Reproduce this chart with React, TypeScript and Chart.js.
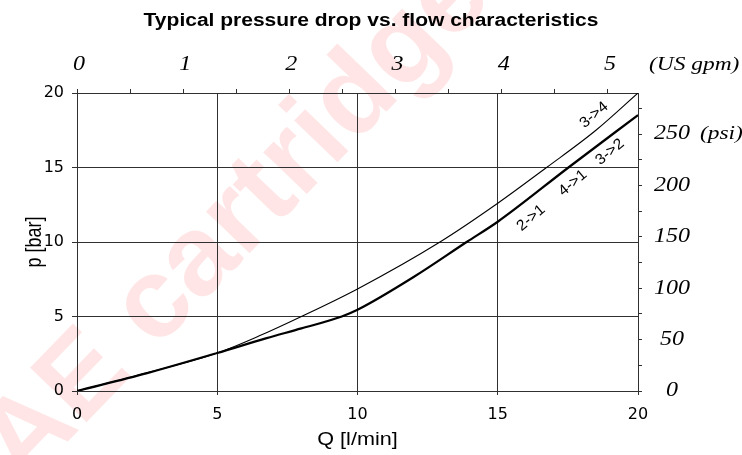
import React, { useEffect, useRef } from 'react';
import { Chart, registerables } from 'chart.js';

Chart.register(...registerables);

// ---- text ----
const TITLE = 'Typical pressure drop vs. flow characteristics';
const X_TITLE = 'Q [l/min]';
const Y_TITLE = 'p [bar]';
const GPM_UNIT = '(US gpm)';
const PSI_UNIT = '(psi)';
const WATERMARK = 'AE cartridges';

// ---- data (Q in l/min, p in bar) ----
const flowThin = [0, 2.5, 5, 6.5, 8, 10, 12.94, 15, 16.74, 18.5, 20];
const pressureThin = [0, 1.22, 2.55, 3.7, 5.0, 6.85, 10, 12.6, 15, 17.5, 20];
const flowThick = [0, 2.5, 5, 6.76, 8, 9.44, 10, 12, 13.89, 15, 17.52, 20];
const pressureThick = [0, 1.2, 2.55, 3.55, 4.2, 5, 5.45, 7.65, 10, 11.36, 15, 18.52];

// curve annotations (data units)
const curveLabels = ['3->4', '3->2', '4->1', '2->1'];
const curveLabelQ = [18.43, 19.0, 17.68, 16.19];
const curveLabelP = [18.52, 16.04, 13.96, 11.61];

// ---- ticks ----
const flowTicks = [0, 5, 10, 15, 20];
const barTicks = [0, 5, 10, 15, 20];
const gpmTicks = [0, 0.5, 1, 1.5, 2, 2.5, 3, 3.5, 4, 4.5, 5];
const gpmLabels = [0, 1, 2, 3, 4, 5];
const psiTicks = [0, 25, 50, 75, 100, 125, 150, 175, 200, 225, 250, 275];
const psiLabels = [0, 50, 100, 150, 200, 250];

const LPM_PER_GPM = 3.78541;
const PSI_PER_BAR = 14.5038;
const Q_MAX = 20;
const P_MAX = 20;

const GRID = '#303030';
const SERIF = '"Liberation Serif", "Times New Roman", serif';
const SANS = '"Liberation Sans", Arial, sans-serif';

function drawText(
  ctx: CanvasRenderingContext2D,
  text: string,
  x: number,
  y: number,
  font: string,
  align: CanvasTextAlign,
  baseline: CanvasTextBaseline,
  rot = 0,
  sx = 1.2,
  sy = 1,
  color = '#000'
) {
  ctx.save();
  ctx.translate(x, y);
  ctx.rotate(rot);
  ctx.scale(sx, sy);
  ctx.font = font;
  ctx.textAlign = align;
  ctx.textBaseline = baseline;
  ctx.fillStyle = color;
  ctx.fillText(text, 0, 0);
  ctx.restore();
}

const textPlugin = {
  id: 'extraTexts',
  beforeDraw(chart: any) {
    const ctx: CanvasRenderingContext2D = chart.ctx;
    ctx.save();
    ctx.translate(24, 487);
    ctx.rotate((-46 * Math.PI) / 180);
    ctx.font = 'bold 114px ' + SANS;
    ctx.textAlign = 'left';
    ctx.textBaseline = 'alphabetic';
    ctx.fillStyle = 'rgba(255, 0, 0, 0.1)';
    ctx.fillText(WATERMARK, 0, 0);
    ctx.restore();
  },
  afterDraw(chart: any) {
    const ctx: CanvasRenderingContext2D = chart.ctx;
    const area = chart.chartArea;
    const xs = chart.scales.x;
    const ys = chart.scales.y;
    const y2 = chart.scales.y2;
    const x2 = chart.scales.x2;

    drawText(ctx, TITLE, chart.width / 2, 21, 'bold 17.5px ' + SANS, 'center', 'middle');
    drawText(ctx, X_TITLE, (area.left + area.right) / 2, 440, '18px ' + SANS, 'center', 'middle');
    drawText(ctx, Y_TITLE, 35, (area.top + area.bottom) / 2, '18px ' + SANS, 'center', 'middle', -Math.PI / 2, 1, 1.2);

    // secondary-axis tick labels (positions from the library's scales)
    gpmLabels.forEach((v) => {
      drawText(ctx, String(v), x2.getPixelForValue(v) + 2, area.top - 28, 'italic 20px ' + SERIF, 'center', 'middle');
    });
    psiLabels.forEach((v) => {
      drawText(ctx, String(v), area.right + 34, y2.getPixelForValue(v), 'italic 20px ' + SERIF, 'center', 'middle');
    });
    drawText(ctx, GPM_UNIT, area.right + 11, area.top - 28, 'italic 19.5px ' + SERIF, 'left', 'middle');
    drawText(ctx, PSI_UNIT, area.right + 62, y2.getPixelForValue(250), 'italic 19.5px ' + SERIF, 'left', 'middle');

    curveLabels.forEach((lab, i) => {
      drawText(
        ctx,
        lab,
        xs.getPixelForValue(curveLabelQ[i]),
        ys.getPixelForValue(curveLabelP[i]),
        '15px ' + SANS,
        'center',
        'middle',
        (-40 * Math.PI) / 180,
        1.05,
        1
      );
    });
  },
};

export default function App() {
  const ref = useRef<HTMLCanvasElement | null>(null);

  useEffect(() => {
    if (!ref.current) return;
    const chart = new Chart(ref.current, {
      type: 'line',
      data: {
        datasets: [
          {
            label: '3->4',
            data: flowThin.map((q, i) => ({ x: q, y: pressureThin[i] })),
            borderColor: '#000',
            borderWidth: 1.1,
            pointRadius: 0,
            cubicInterpolationMode: 'monotone',
            xAxisID: 'x',
            yAxisID: 'y',
          },
          {
            label: '3->2 / 4->1 / 2->1',
            data: flowThick.map((q, i) => ({ x: q, y: pressureThick[i] })),
            borderColor: '#000',
            borderWidth: 2.2,
            pointRadius: 0,
            cubicInterpolationMode: 'monotone',
            xAxisID: 'x',
            yAxisID: 'y',
          },
        ],
      },
      options: {
        responsive: false,
        animation: false,
        events: [],
        layout: { padding: 0 },
        plugins: {
          legend: { display: false },
          title: { display: false },
          tooltip: { enabled: false },
        },
        scales: {
          x: {
            type: 'linear',
            position: 'bottom',
            min: 0,
            max: Q_MAX,
            afterBuildTicks: (s: any) => {
              s.ticks = flowTicks.map((v) => ({ value: v }));
            },
            afterFit: (s: any) => {
              s.height = 64;
            },
            ticks: {
              font: { family: '"DejaVu Sans", sans-serif', size: 16 },
              color: '#000',
              padding: 10,
              maxRotation: 0,
              autoSkip: false,
            },
            grid: { color: GRID, lineWidth: 1, tickLength: 4 },
            border: { color: GRID, width: 1 },
          },
          y: {
            type: 'linear',
            position: 'left',
            min: 0,
            max: P_MAX,
            afterBuildTicks: (s: any) => {
              s.ticks = barTicks.map((v) => ({ value: v }));
            },
            afterFit: (s: any) => {
              s.width = 77;
            },
            ticks: {
              font: { family: '"DejaVu Sans", sans-serif', size: 16 },
              color: '#000',
              padding: 8,
              autoSkip: false,
            },
            grid: { color: GRID, lineWidth: 1, tickLength: 5 },
            border: { color: GRID, width: 1 },
          },
          x2: {
            type: 'linear',
            position: 'top',
            min: 0,
            max: Q_MAX / LPM_PER_GPM,
            afterBuildTicks: (s: any) => {
              s.ticks = gpmTicks.map((v) => ({ value: v }));
            },
            afterFit: (s: any) => {
              s.height = 93;
            },
            ticks: { display: false, autoSkip: false },
            grid: { drawOnChartArea: false, color: GRID, lineWidth: 1, tickLength: 4 },
            border: { color: GRID, width: 1 },
          },
          y2: {
            type: 'linear',
            position: 'right',
            min: 0,
            max: P_MAX * PSI_PER_BAR,
            afterBuildTicks: (s: any) => {
              s.ticks = psiTicks.map((v) => ({ value: v }));
            },
            afterFit: (s: any) => {
              s.width = 104;
            },
            ticks: { display: false, autoSkip: false },
            grid: { drawOnChartArea: false, color: GRID, lineWidth: 1, tickLength: 4 },
            border: { color: GRID, width: 1 },
          },
        },
      } as any,
      plugins: [textPlugin],
    });
    return () => chart.destroy();
  }, []);

  return (
    <div style={{ position: 'absolute', left: 0, top: 0, width: 742, height: 455, background: '#fff' }}>
      <canvas ref={ref} width={742} height={455} style={{ display: 'block' }} />
    </div>
  );
}
